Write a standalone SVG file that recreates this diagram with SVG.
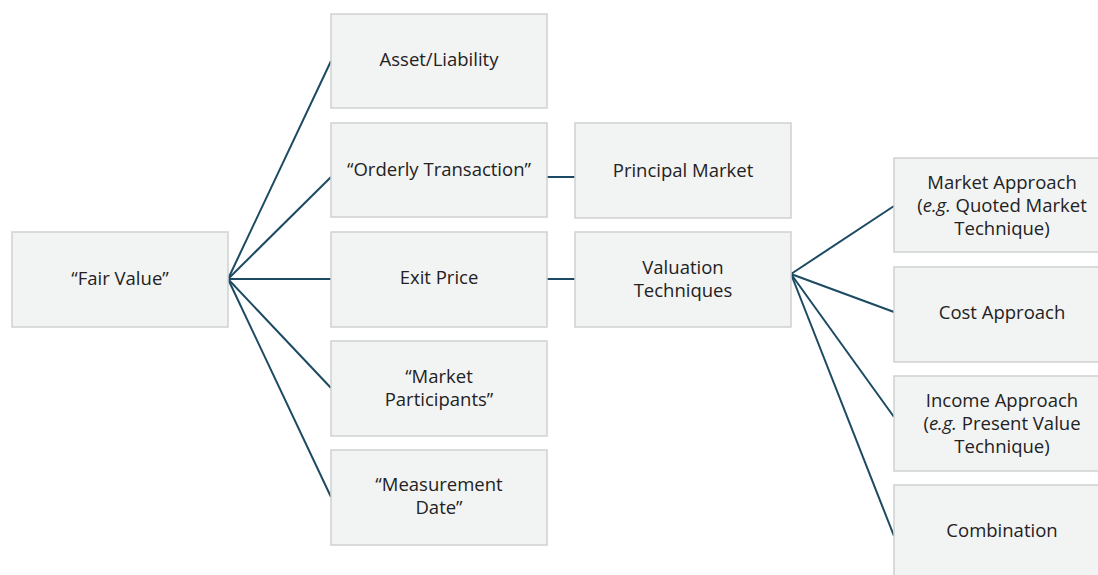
<svg xmlns="http://www.w3.org/2000/svg" width="1098" height="575" viewBox="0 0 1098 575">
  <style>
    .box rect { fill: #f2f3f3; stroke: #d0d1d1; stroke-width: 1.5; }
    .box text { font-family: "Open Sans", Lato, "Liberation Sans", sans-serif; font-size: 18.5px; fill: #222222; text-anchor: middle; }
    .links line { stroke: #1b4a62; stroke-width: 2; }
  </style>
  <rect width="1098" height="575" fill="#ffffff"/>

  <g class="links">
    <line x1="228" y1="279" x2="331" y2="61"/>
    <line x1="228" y1="279" x2="331" y2="177"/>
    <line x1="228" y1="279" x2="331" y2="279"/>
    <line x1="228" y1="279" x2="331" y2="388"/>
    <line x1="228" y1="279" x2="331" y2="497"/>
    <line x1="547" y1="177" x2="575" y2="177"/>
    <line x1="547" y1="279" x2="575" y2="279"/>
    <line x1="791" y1="274" x2="894" y2="206"/>
    <line x1="791" y1="274" x2="894" y2="312"/>
    <line x1="791" y1="274" x2="894" y2="417"/>
    <line x1="791" y1="274" x2="894" y2="536"/>
  </g>

  <g id="fair-value" class="box">
    <rect x="12" y="232" width="216" height="95"/>
    <text x="120" y="285">“Fair Value”</text>
  </g>

  <g id="asset-liability" class="box">
    <rect x="331" y="14" width="216" height="94"/>
    <text x="439" y="66">Asset/Liability</text>
  </g>
  <g id="orderly-transaction" class="box">
    <rect x="331" y="123" width="216" height="94"/>
    <text x="439" y="176">“Orderly Transaction”</text>
  </g>
  <g id="exit-price" class="box">
    <rect x="331" y="232" width="216" height="95"/>
    <text x="439" y="284">Exit Price</text>
  </g>
  <g id="market-participants" class="box">
    <rect x="331" y="341" width="216" height="95"/>
    <text x="439" y="383">“Market</text>
    <text x="439" y="406">Participants”</text>
  </g>
  <g id="measurement-date" class="box">
    <rect x="331" y="450" width="216" height="95"/>
    <text x="439" y="491">“Measurement</text>
    <text x="439" y="514">Date”</text>
  </g>

  <g id="principal-market" class="box">
    <rect x="575" y="123" width="216" height="95"/>
    <text x="683" y="177">Principal Market</text>
  </g>
  <g id="valuation-techniques" class="box">
    <rect x="575" y="232" width="216" height="95"/>
    <text x="683" y="274">Valuation</text>
    <text x="683" y="297">Techniques</text>
  </g>

  <g id="market-approach" class="box">
    <rect x="894" y="158" width="216" height="94"/>
    <text x="1002" y="189">Market Approach</text>
    <text x="1002" y="212">(<tspan font-style="italic">e.g.</tspan> Quoted Market</text>
    <text x="1002" y="235">Technique)</text>
  </g>
  <g id="cost-approach" class="box">
    <rect x="894" y="267" width="216" height="95"/>
    <text x="1002" y="319">Cost Approach</text>
  </g>
  <g id="income-approach" class="box">
    <rect x="894" y="376" width="216" height="95"/>
    <text x="1002" y="407">Income Approach</text>
    <text x="1002" y="430">(<tspan font-style="italic">e.g.</tspan> Present Value</text>
    <text x="1002" y="453">Technique)</text>
  </g>
  <g id="combination" class="box">
    <rect x="894" y="485" width="216" height="95"/>
    <text x="1002" y="537">Combination</text>
  </g>
</svg>
